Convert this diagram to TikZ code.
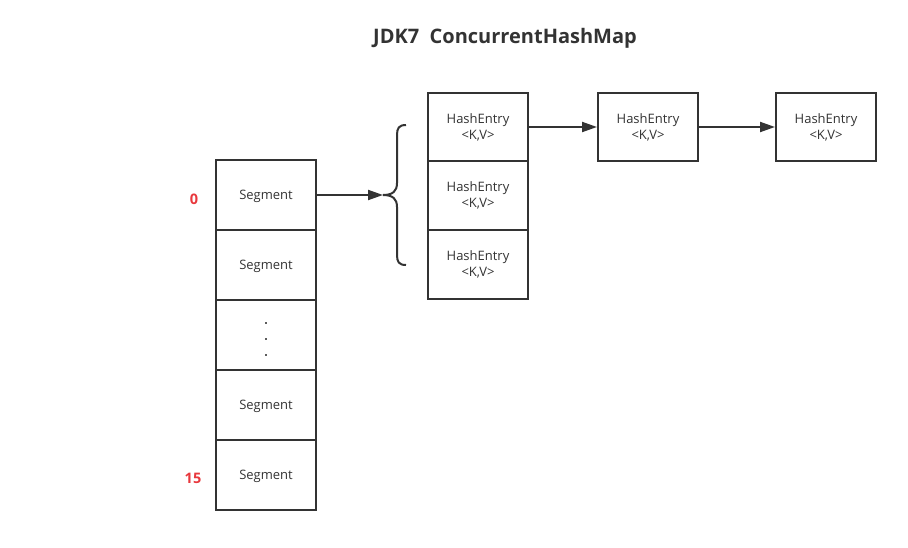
\documentclass[tikz,border=0pt]{standalone}
\usepackage{fontspec}
\setmainfont{Open Sans}
\usetikzlibrary{arrows.meta}
\definecolor{ln}{HTML}{333333}
\definecolor{redlab}{HTML}{E8383D}
\begin{document}
\begin{tikzpicture}[x=1pt,y=-1pt,
  cell/.style={draw=ln,line width=2pt,minimum width=100pt,minimum height=70pt,inner sep=0pt,text=ln,font=\fontsize{13}{16}\selectfont,align=center},
  scell/.style={cell,text height=9.5pt,text depth=0pt},
  hcell/.style={cell,minimum height=68.7pt},
  idx/.style={text=redlab,font=\bfseries\fontsize{14.5}{16}\selectfont},
  conn/.style={draw=ln,line width=2pt,-{Triangle[length=15pt,width=10pt]}},
  brace/.style={draw=ln,line width=2pt}]
\useasboundingbox (0,0) rectangle (908,547);
\node[font=\bfseries\fontsize{20}{24}\selectfont,text=ln] (title) at (505,38) {JDK7\ \ ConcurrentHashMap};
% segments
\node[scell] (s0) at (266,195) {Segment};
\node[scell] (s1) at (266,265) {Segment};
\node[scell] (s2) at (266,335) {};
\node[scell] (s3) at (266,405) {Segment};
\node[scell] (s4) at (266,475) {Segment};
\foreach \y/\n in {323/d1,339/d2,355/d3}
  \node[fill=ln!80,minimum size=2pt,inner sep=0pt] (\n) at (266,\y) {};
\node[idx] (i0) at (194,199) {0};
\node[idx] (i15) at (193,478) {15};
% hash entries
\node[hcell] (h1) at (478,127) {HashEntry\\<K,V>};
\node[hcell] (h2) at (478,195.7) {HashEntry\\<K,V>};
\node[hcell] (h3) at (478,264.4) {HashEntry\\<K,V>};
\node[hcell] (r1) at (648,127) {HashEntry\\<K,V>};
\node[hcell] (r2) at (826,127) {HashEntry\\<K,V>};
% brace
\coordinate (bt) at (383,195);
\draw[brace] (406,125) .. controls (399,125) and (397,128) .. (397,135) -- (397,183)
  .. controls (397,191) and (393,195) .. (bt)
  .. controls (393,195) and (397,199) .. (397,207) -- (397,255)
  .. controls (397,262) and (399,265) .. (406,265);
\draw[conn] (s0.east) -- (bt);
\draw[conn] (h1.east |- r1.west) -- (r1.west);
\draw[conn] (r1.east) -- (r2.west);
\end{tikzpicture}
\end{document}
